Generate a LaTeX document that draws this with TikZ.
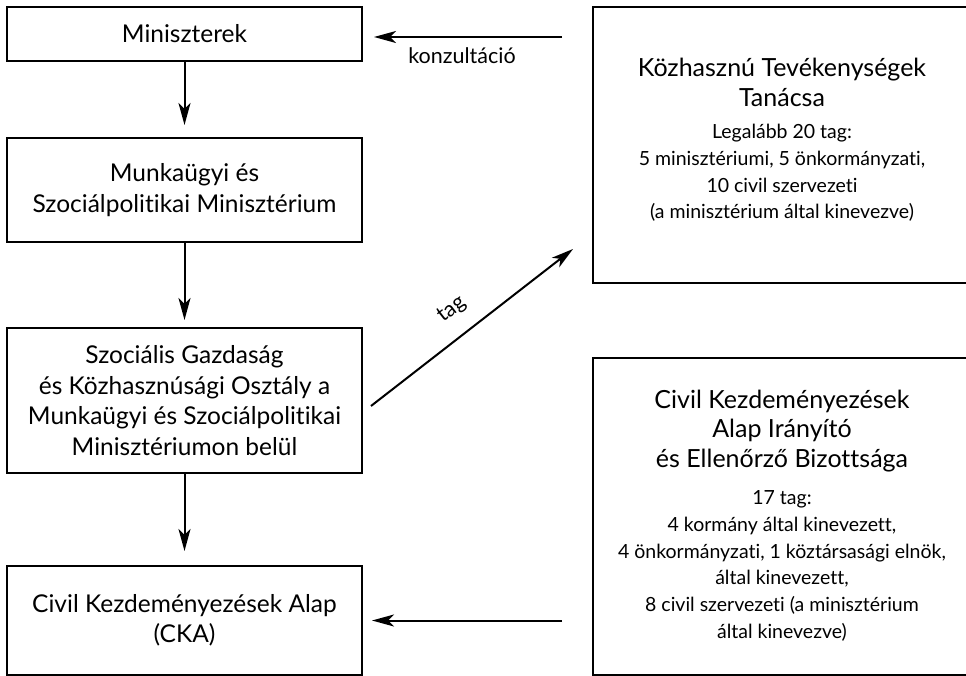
\documentclass[tikz,border=0pt]{standalone}
\usepackage{fontspec}
\setmainfont{Lato}[Ligatures={NoCommon,NoContextual,NoRequired}]
\usepackage{tikz}
\usetikzlibrary{calc}
\usetikzlibrary{shapes,arrows.meta,positioning}
\newcommand{\balfont}{\fontsize{24.5}{30.5}\selectfont}
\newcommand{\cimfont}{\fontsize{25}{29.5}\selectfont}
\newcommand{\tagfont}{\fontsize{19.5}{26.7}\selectfont}
\newcommand{\feliratfont}{\fontsize{21.5}{26}\selectfont}
\tikzstyle{doboz} = [rectangle, minimum width=355pt, text centered, align=center, draw=black, line width=2.3pt, outer sep=0pt, font=\balfont]
\tikzstyle{nagydoboz} = [rectangle, minimum width=392pt, draw=black, line width=2.3pt, outer sep=0pt]
\tikzstyle{cim} = [align=center, font=\cimfont]
\tikzstyle{tagok} = [align=center, font=\tagfont]
\tikzstyle{felirat} = [font=\feliratfont]
\tikzstyle{nyil} = [-{Stealth[length=22pt,width=12pt,inset=6pt]}, line width=2pt]

\begin{document}
\begin{tikzpicture}[x=1pt, y=-1pt]
    \useasboundingbox (0,0) rectangle (966,676);

    \node(miniszterek)[doboz, minimum height=54pt] at (184.5,34){Miniszterek};
    \node(munkaugyi)[doboz, minimum height=104pt, below=77pt of miniszterek]{Munkaügyi és\\Szociálpolitikai Minisztérium};
    \node(osztaly)[doboz, minimum height=145pt, below=86pt of munkaugyi]{Szociális Gazdaság\\és Közhasznúsági Osztály a\\Munkaügyi és Szociálpolitikai\\Minisztériumon belül};
    \node(cka)[doboz, minimum height=109pt, below=93pt of osztaly]{Civil Kezdeményezések Alap\\(CKA)};

    % jobb oldali dobozok (a jobb szel kilog a kepbol)
    \node(tanacs)[nagydoboz, minimum height=276pt] at (789,145){};
    \node(tanacscim)[cim] at (782,82.5){Közhasznú Tevékenységek\\Tanácsa};
    \node(tanacstag)[tagok] at (782,173){Legalább 20 tag:\\5 minisztériumi, 5 önkormányzati,\\10 civil szervezeti\\(a minisztérium által kinevezve)};

    \node(bizottsag)[nagydoboz, minimum height=317pt] at (789,516.5){};
    \node(bizottsagcim)[cim] at (782,431){Civil Kezdeményezések\\Alap Irányító\\és Ellenőrző Bizottsága};
    \node(bizottsagtag)[tagok] at (782,566){17 tag:\\4 kormány által kinevezett,\\4 önkormányzati, 1 köztársasági elnök,\\által kinevezett,\\8 civil szervezeti (a minisztérium\\által kinevezve)};

    \draw[nyil, shorten >=13pt] (miniszterek) -- (munkaugyi);
    \draw[nyil, shorten >=8pt] (munkaugyi) -- (osztaly);
    \draw[nyil, shorten >=15pt] (osztaly) -- (cka);

    \draw[nyil, shorten <=31pt, shorten >=12pt] ([yshift=-3pt]miniszterek.east -| tanacs.west) -- ([yshift=-3pt]miniszterek.east) node[felirat, pos=0.567, below=6pt]{konzultáció};
    \draw[nyil] ([xshift=9pt, yshift=-5.5pt]osztaly.east) -- ([xshift=-20pt, yshift=34pt]tanacs.south west) node[felirat, sloped, pos=0.48, above=13pt]{tag};
    \draw[nyil, shorten <=31pt, shorten >=10pt] (cka.east -| bizottsag.west) -- (cka.east);

\end{tikzpicture}
\end{document}
